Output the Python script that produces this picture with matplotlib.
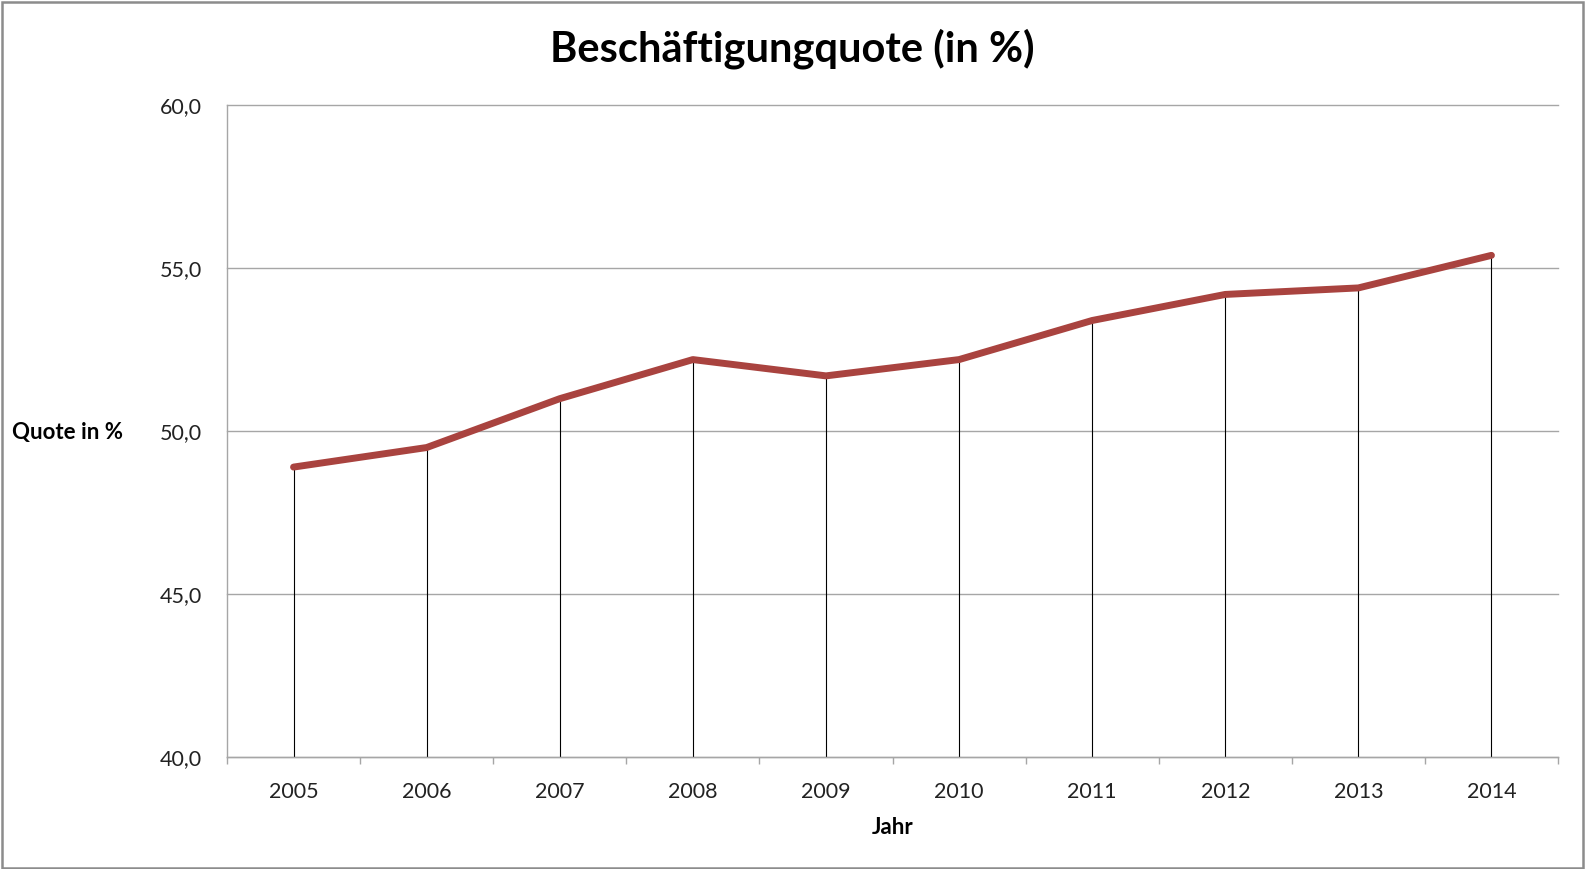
import matplotlib.pyplot as plt
from matplotlib.patches import Rectangle
import numpy as np

# Daten
jahre = ['2005', '2006', '2007', '2008', '2009', '2010', '2011', '2012', '2013', '2014']
quote = [48.9, 49.5, 51.0, 52.2, 51.7, 52.2, 53.4, 54.2, 54.4, 55.4]
y_ticks = [40.0, 45.0, 50.0, 55.0, 60.0]

plt.rcParams['font.family'] = ['Lato', 'DejaVu Sans']

fig = plt.figure(figsize=(15.85, 8.69), dpi=100)
ax = fig.add_axes([227 / 1585, 112 / 869, 1331 / 1585, 651.5 / 869])

x = np.arange(len(jahre))

# Lotlinien von der Achse bis zum Punkt
ax.vlines(x, y_ticks[0], quote, color='black', lw=0.8, zorder=2)
ax.plot(x, quote, color='#A9433F', lw=5.0, solid_capstyle='round',
        solid_joinstyle='round', zorder=3)

ax.set_xlim(-0.5, len(jahre) - 0.5)
ax.set_ylim(y_ticks[0], y_ticks[-1])
ax.set_yticks(y_ticks)
ax.set_yticklabels([f'{v:.1f}'.replace('.', ',') for v in y_ticks])
ax.set_xticks(x)
ax.set_xticklabels(jahre)
ax.set_xticks(np.arange(len(jahre) + 1) - 0.5, minor=True)

ax.grid(axis='y', color='#A6A6A6', lw=1.0, zorder=1)
for gl in ax.get_ygridlines():
    gl.set_clip_on(False)
ax.set_axisbelow(True)

ax.tick_params(axis='y', length=0, pad=18, labelsize=15.5, labelcolor='#222222')
ax.tick_params(axis='x', which='major', length=0, pad=18, labelsize=15.5, labelcolor='#222222')
ax.tick_params(axis='x', which='minor', length=5, width=1, color='#A6A6A6', direction='out')

for s in ['top', 'right']:
    ax.spines[s].set_visible(False)
for s in ['left', 'bottom']:
    ax.spines[s].set_color('#A6A6A6')
    ax.spines[s].set_linewidth(1.0)

fig.text(792 / 1585, 1 - 49 / 869, 'Beschäftigungquote (in %)', ha='center', va='center',
         fontsize=30, fontweight='bold')
fig.text(12 / 1585, 1 - 432 / 869, 'Quote in %', ha='left', va='center',
         fontsize=16, fontweight='bold')
fig.text(893 / 1585, 1 - 827 / 869, 'Jahr', ha='center', va='center',
         fontsize=16, fontweight='bold')

# grauer Rahmen um das Diagramm
fig.patches.append(Rectangle((0.001, 0.001), 0.998, 0.997, transform=fig.transFigure,
                             fill=False, edgecolor='#8C8C8C', lw=1.8))

fig.savefig('out.png', dpi=100)
